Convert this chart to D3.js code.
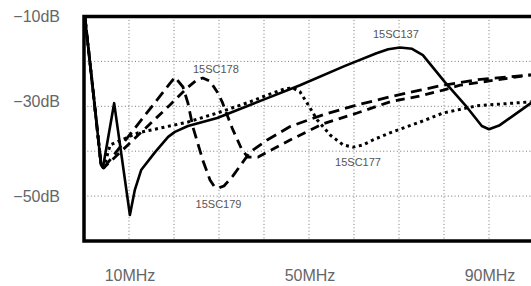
<!DOCTYPE html>
<html>
<head>
<meta charset="utf-8">
<style>
body {
	margin: 0;
	background: #fff;
}

.grid line {
	stroke: #777;
	stroke-width: 1;
	stroke-dasharray: 1, 2.4;
}

.frame {
	fill: none;
	stroke: #000;
	stroke-width: 3.5;
}

.curve {
	fill: none;
	stroke: #000;
	stroke-linejoin: round;
}

.tick-label {
	font-family: "Liberation Sans", Arial, sans-serif;
	font-size: 16px;
	fill: #666;
}

.curve-label {
	font-family: "Liberation Sans", Arial, sans-serif;
	font-size: 11px;
	fill: #555;
}
</style>
</head>
<body>
<script src="https://d3js.org/d3.v7.min.js"></script>
<script>
	// values, MHz and dB
	var xTicks = [10, 50, 90];
	var yTicks = [-10, -30, -50];
	var xGrid = [10, 20, 30, 40, 50, 60, 70, 80, 90];
	var yGrid = [-20, -30, -40, -50];

	// common steep start shared by all four responses
	var start = [[0.2, -10.1], [2.0, -26.4], [3.8, -43.1], [4.4, -43.7]];

	var sc137 = [[0.2, -10.1], [2.0, -26.4], [3.8, -43.1], [4.2, -43.7], [6.7, -29.3],
		[10.2, -54.2], [11.3, -48.6], [12.7, -44.2], [15.8, -40.2], [18.7, -36.8],
		[20.2, -35.7], [23.1, -34.4], [29.6, -32.6], [36.9, -29.7], [40.2, -28.4],
		[48, -25.3], [58, -21.0], [65, -18.2], [67.6, -17.3], [70.2, -16.9], [72.9, -17.2],
		[75.3, -18.6], [80.2, -24.6], [85.1, -30.2], [88.4, -34.4], [90, -35.1],
		[92.4, -34.2], [99.3, -29.3]];

	var sc179 = start.concat([[20.2, -23.5], [22, -25.7], [23.1, -29.3], [24.2, -34.6],
		[26.4, -42.0], [28, -46.4], [28.9, -47.75], [29.8, -48.2], [31.1, -47.75],
		[33.1, -45.5], [36.9, -40.2], [40.7, -37.5], [45.8, -34.5], [53.1, -31.9],
		[60.7, -29.7], [68, -27.9], [74.7, -26.4], [79.8, -25.3], [87.3, -24.1], [99.3, -23.0]]);

	var sc178 = start.concat([[19.1, -29.7], [22.9, -25.9], [25.1, -24.1], [26.4, -23.7],
		[28, -24.4], [29.6, -26.8], [30.7, -29.0], [32.9, -34.8], [35.1, -39.7],
		[36.4, -41.3], [38.7, -41.3], [45.8, -37.5], [53.1, -33.9], [60.7, -31.5],
		[68, -29.0], [74.7, -27.7], [79.8, -26.4], [83.6, -25.3], [99.3, -23.0]]);

	var sc177 = start.concat([[5.8, -38.6], [12, -35.9], [15.8, -35.1], [23.1, -33.5],
		[29.6, -31.5], [36.9, -29.0], [40.7, -27.5], [44.7, -26.1], [46.4, -25.9],
		[48, -26.8], [49.6, -29.3], [51.8, -33.0], [54.7, -36.4], [57.6, -38.6],
		[59.8, -39.1], [62, -38.6], [64.2, -37.5], [68, -35.9], [74.7, -33.5],
		[79.8, -31.5], [87.3, -29.9], [99.3, -29.0]]);

	var width = 531,
		height = 286;

	var svg = d3.select("body").append("svg")
		.attr("width", width)
		.attr("height", height);

	var x = d3.scaleLinear().domain([0, 100]).range([84, 534]);
	var y = d3.scaleLinear().domain([-10, -60]).range([16.5, 241]);

	var grid = svg.append("g").attr("class", "grid");
	grid.selectAll(".vx")
		.data(xGrid)
		.enter()
		.append("line")
		.attr("x1", function(d) { return x(d); })
		.attr("x2", function(d) { return x(d); })
		.attr("y1", y(-10))
		.attr("y2", y(-60));
	grid.selectAll(".hy")
		.data(yGrid)
		.enter()
		.append("line")
		.attr("x1", x(0))
		.attr("x2", x(100))
		.attr("y1", function(d) { return y(d); })
		.attr("y2", function(d) { return y(d); });

	var line = d3.line()
		.x(function(d) { return x(d[0]); })
		.y(function(d) { return y(d[1]); });

	var curves = [
		{data: sc177, width: 3, dash: "3,3.6"},
		{data: sc178, width: 2.8, dash: "9,6"},
		{data: sc179, width: 2.8, dash: "11,6"},
		{data: sc137, width: 2.6, dash: null}
	];

	svg.selectAll(".curve")
		.data(curves)
		.enter()
		.append("path")
		.attr("class", "curve")
		.attr("d", function(d) { return line(d.data); })
		.attr("stroke-width", function(d) { return d.width; })
		.attr("stroke-dasharray", function(d) { return d.dash; });

	svg.append("rect")
		.attr("class", "frame")
		.attr("x", x(0))
		.attr("y", y(-10))
		.attr("width", x(100) - x(0))
		.attr("height", y(-60) - y(-10));

	svg.selectAll(".ylab")
		.data(yTicks)
		.enter()
		.append("text")
		.attr("class", "tick-label")
		.attr("text-anchor", "end")
		.attr("x", 60)
		.attr("y", function(d) { return y(d) + (d === -30 ? 0.5 : 5.8); })
		.text(function(d) { return "\u2212" + Math.abs(d) + "dB"; });

	svg.selectAll(".xlab")
		.data(xTicks)
		.enter()
		.append("text")
		.attr("class", "tick-label")
		.attr("text-anchor", "middle")
		.attr("x", function(d) { return x(d) + 1; })
		.attr("y", 281)
		.text(function(d) { return d + "MHz"; });

	// curve names, anchored in chart units
	var names = [
		{name: "15SC178", at: [24.2, -22.5]},
		{name: "15SC137", at: [64.2, -14.8]},
		{name: "15SC179", at: [24.8, -52.6]},
		{name: "15SC177", at: [55.8, -43.4]}
	];
	svg.selectAll(".curve-label")
		.data(names)
		.enter()
		.append("text")
		.attr("class", "curve-label")
		.attr("x", function(d) { return x(d.at[0]); })
		.attr("y", function(d) { return y(d.at[1]); })
		.text(function(d) { return d.name; });
</script>
</body>
</html>
